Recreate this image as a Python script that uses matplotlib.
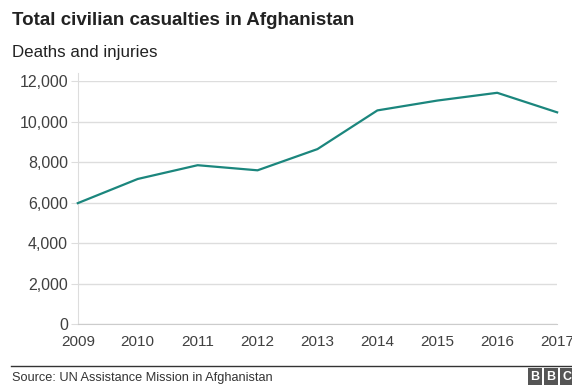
import numpy as np
import matplotlib
matplotlib.use("Agg")
import matplotlib.pyplot as plt
from matplotlib.ticker import FuncFormatter

plt.rcParams["font.family"] = ["Liberation Sans", "DejaVu Sans"]

years = [2009, 2010, 2011, 2012, 2013, 2014, 2015, 2016, 2017]
casualties = [5969, 7162, 7842, 7590, 8638, 10548, 11034, 11418, 10453]
yticks = [0, 2000, 4000, 6000, 8000, 10000, 12000]

fig = plt.figure(figsize=(5.72, 3.85), dpi=100)
ax = fig.add_axes([0.136, 0.1584, 0.838, 0.6312])

ax.plot(years, casualties, color="#1b867d", linewidth=1.6, clip_on=False, zorder=3)

ax.set_xlim(2009, 2017)
ax.set_ylim(0, 12000)
ax.set_xticks(years)
ax.set_yticks(yticks)
ax.yaxis.set_major_formatter(FuncFormatter(lambda v, p: f"{int(v):,}"))
ax.grid(axis="y", color="#dddddd", linewidth=1)
ax.set_axisbelow(True)

for s in ["top", "right"]:
    ax.spines[s].set_visible(False)
ax.spines["left"].set_color("#dddddd")
ax.spines["bottom"].set_color("#cccccc")
ax.spines["left"].set_bounds(0, 12400)
ax.tick_params(axis="y", length=5, color="#dddddd", labelsize=11.5, labelcolor="#404040", pad=2)
ax.tick_params(axis="x", length=0, labelsize=11, labelcolor="#404040", pad=8)

# title block
fig.text(0.021, 0.935, "Total civilian casualties in Afghanistan", fontsize=13.5,
         fontweight="bold", color="#222222", va="baseline")
fig.text(0.021, 0.852, "Deaths and injuries", fontsize=12.2, color="#222222", va="baseline")

# footer
fig.add_artist(plt.Line2D([0.02, 1.0], [0.049, 0.049], color="#333333", linewidth=1))
fig.text(0.021, 0.01, "Source: UN Assistance Mission in Afghanistan", fontsize=9.2,
         color="#333333", va="baseline")
for i, ch in enumerate("BBC"):
    x = 0.935 + i * 0.028
    fig.text(x, 0.021, ch, fontsize=9, fontweight="bold", color="white", va="center",
             ha="center", bbox=dict(boxstyle="square,pad=0.2", fc="#555555", ec="none"))

fig.savefig("out.png", dpi=100)
